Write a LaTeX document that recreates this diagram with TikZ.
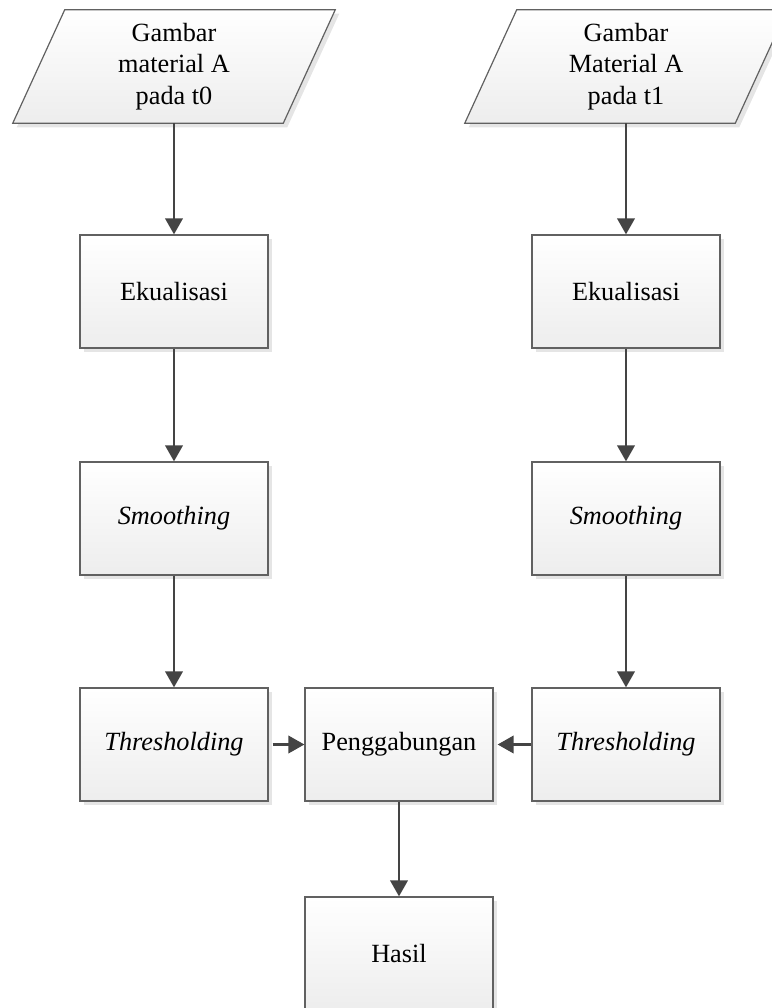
\documentclass[tikz,border=0pt]{standalone}
\usepackage{fontspec}
\setmainfont{Liberation Serif}
\usetikzlibrary{arrows.meta,shadows}
\definecolor{linegray}{HTML}{444444}
\tikzset{
  boxshadow/.style={drop shadow={shadow xshift=3pt, shadow yshift=-3pt, opacity=1, fill=black!10}},
  procbox/.style={draw=black!62, line width=0.9pt, top color=white, bottom color=black!7,
    boxshadow, minimum width=141pt, minimum height=84.75pt, inner sep=0pt,
    align=center, font=\fontsize{19.7}{23.5}\selectfont},
  iobox/.style={draw=none, minimum width=241.5pt, minimum height=84.75pt, inner sep=0pt,
    align=center, font=\fontsize{19.7}{23.5}\selectfont},
  para/.style={draw=black!62, line width=0.9pt, top color=white, bottom color=black!7, boxshadow},
  flow/.style={draw=linegray, line width=2pt, -{Triangle[length=12pt,width=13pt]}}
}
\begin{document}
\begin{tikzpicture}[x=0.75pt,y=-0.75pt]
\useasboundingbox (0,0) rectangle (772,1008);
% input parallelograms
\node[iobox] (in0) at (174,66.5) {};
\path[para] (in0.south west) -- ([xshift=-39pt]in0.south east) -- (in0.north east) -- ([xshift=39pt]in0.north west) -- cycle;
\node[iobox] at (174,66.5) {Gambar\\material A\\pada t0};
\node[iobox] (in1) at (626,66.5) {};
\path[para] (in1.south west) -- ([xshift=-39pt]in1.south east) -- (in1.north east) -- ([xshift=39pt]in1.north west) -- cycle;
\node[iobox] at (626,66.5) {Gambar\\Material A\\pada t1};
% left column
\node[procbox] (eq0) at (174,291.5) {Ekualisasi};
\node[procbox] (sm0) at (174,518.5) {\itshape Smoothing};
\node[procbox] (th0) at (174,744.5) {\itshape Thresholding};
% right column
\node[procbox] (eq1) at (626,291.5) {Ekualisasi};
\node[procbox] (sm1) at (626,518.5) {\itshape Smoothing};
\node[procbox] (th1) at (626,744.5) {\itshape Thresholding};
% middle
\node[procbox] (pg) at (399,744.5) {Penggabungan};
\node[procbox] (hs) at (399,953.5) {Hasil};
% connectors
\draw[flow] (in0.south) -- (eq0.north);
\draw[flow] (eq0) -- (sm0);
\draw[flow] (sm0) -- (th0);
\draw[flow] (in1.south) -- (eq1.north);
\draw[flow] (eq1) -- (sm1);
\draw[flow] (sm1) -- (th1);
\draw[flow] ([xshift=3pt]th0.east) -- (pg.west);
\draw[flow] (th1.west) -- ([xshift=3pt]pg.east);
\draw[flow] (pg) -- (hs);
\end{tikzpicture}
\end{document}
